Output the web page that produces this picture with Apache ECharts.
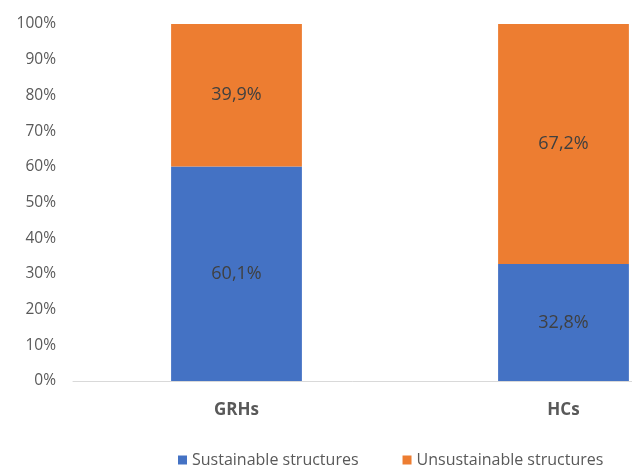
<!DOCTYPE html>
<html>
<head>
<meta charset="utf-8">
<script src="https://cdn.jsdelivr.net/npm/echarts@6/dist/echarts.min.js"></script>
<style>
html,body{margin:0;padding:0;background:#fff;}
#chart{width:632px;height:465px;}
</style>
</head>
<body>
<div id="chart"></div>
<script>
var categories = ['GRHs', 'HCs'];
var sustainable = [60.1, 32.8];
var unsustainable = [39.9, 67.2];
var seriesNames = ['Sustainable structures', 'Unsustainable structures'];
var yTicks = [0, 10, 20, 30, 40, 50, 60, 70, 80, 90, 100];

var font = 'Open Sans';
function fmt(v){ return v.toFixed(1).replace('.', ',') + '%'; }

var chart = echarts.init(document.getElementById('chart'));
chart.setOption({
  animation: false,
  textStyle: { fontFamily: font },
  grid: { left: 73, width: 654, top: 24, height: 357, outerBoundsMode: 'none', containLabel: false },
  legend: {
    data: seriesNames,
    left: 173, top: 447,
    icon: 'rect', itemWidth: 9, itemHeight: 9, itemGap: 44,
    textStyle: { fontFamily: font, fontSize: 16, color: '#595959' }
  },
  xAxis: {
    type: 'category',
    data: categories,
    axisLine: { lineStyle: { color: '#D9D9D9', width: 1 } },
    axisTick: { show: false },
    axisLabel: { margin: 21, fontSize: 17, fontWeight: 'bold', color: '#595959', fontFamily: font }
  },
  yAxis: {
    type: 'value', min: yTicks[0], max: yTicks[yTicks.length - 1], interval: 10,
    splitLine: { show: false },
    axisLine: { show: false },
    axisTick: { show: false },
    axisLabel: { margin: 17, fontSize: 15.5, color: '#595959', fontFamily: font, formatter: function(v){ return v + '%'; } }
  },
  series: [
    {
      name: seriesNames[0], type: 'bar', stack: 's', data: sustainable, barWidth: '40%',
      itemStyle: { color: '#4472C4' },
      label: { show: true, position: 'inside', fontSize: 18, color: '#404040', fontFamily: font, formatter: function(p){ return fmt(p.value); } }
    },
    {
      name: seriesNames[1], type: 'bar', stack: 's', data: unsustainable, barWidth: '40%',
      itemStyle: { color: '#ED7D31' },
      label: { show: true, position: 'inside', fontSize: 18, color: '#404040', fontFamily: font, formatter: function(p){ return fmt(p.value); } }
    }
  ]
});
</script>
</body>
</html>
